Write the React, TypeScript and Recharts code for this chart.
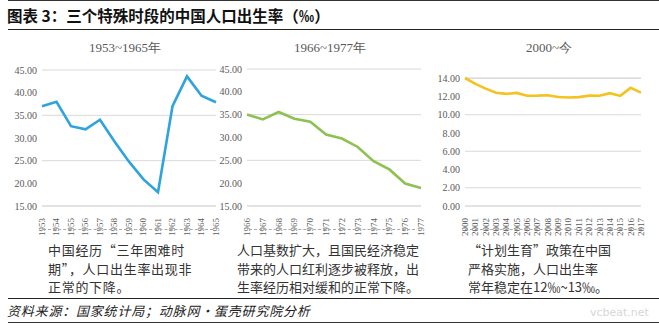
import React from "react";
import { LineChart, Line, XAxis, YAxis, CartesianGrid } from "recharts";

const years1 = ["1953", "1954", "1955", "1956", "1957", "1958", "1959", "1960", "1961", "1962", "1963", "1964", "1965"];
const rates1 = [37.0, 37.97, 32.6, 31.9, 34.03, 29.22, 24.78, 20.86, 18.02, 37.01, 43.6, 39.34, 37.88];

const years2 = ["1966", "1967", "1968", "1969", "1970", "1971", "1972", "1973", "1974", "1975", "1976", "1977"];
const rates2 = [35.05, 33.96, 35.59, 34.11, 33.43, 30.65, 29.77, 27.93, 24.82, 23.01, 19.91, 18.93];

const years3 = ["2000", "2001", "2002", "2003", "2004", "2005", "2006", "2007", "2008", "2009", "2010", "2011", "2012", "2013", "2014", "2015", "2016", "2017"];
const rates3 = [14.03, 13.38, 12.86, 12.41, 12.29, 12.4, 12.09, 12.1, 12.14, 11.95, 11.9, 11.93, 12.1, 12.08, 12.37, 12.07, 12.95, 12.43];

const ticksOld = [15, 20, 25, 30, 35, 40, 45];
const ticksNew = [0, 2, 4, 6, 8, 10, 12, 14];

const notes = [
  ["中国经历“三年困难时", "期”，人口出生率出现非", "正常的下降。"],
  ["人口基数扩大，且国民经济稳定", "带来的人口红利逐步被释放，出", "生率经历相对缓和的正常下降。"],
  ["“计划生育”政策在中国", "严格实施，人口出生率", "常年稳定在12‰~13‰。"],
];

const serif = "'Liberation Serif', 'Times New Roman', serif";
const cjk = "'Noto Sans CJK SC', sans-serif";

const YearTick = (props: any) => {
  const { x, y, payload } = props;
  return (
    <text
      x={x}
      y={y + 4}
      transform={`rotate(-90, ${x}, ${y + 4})`}
      textAnchor="end"
      dy="0.33em"
      fontSize={9}
      fontFamily={serif}
      fill="#595959"
    >
      {payload.value}
    </text>
  );
};

interface PanelProps {
  years: string[];
  rates: number[];
  color: string;
  left: number;
  width: number;
  top: number;
  domain: [number, number];
  ticks: number[];
  title: string;
}

function Panel({ years, rates, color, left, width, top, domain, ticks, title }: PanelProps) {
  const data = years.map((y, i) => ({ year: y, rate: rates[i] }));
  return (
    <div style={{ position: "absolute", left, top: 38, width }}>
      <div
        style={{
          textAlign: "center",
          fontFamily: serif,
          fontSize: 13,
          color: "#595959",
          height: 20,
          lineHeight: "20px",
          paddingLeft: 30,
        }}
      >
        {title}
      </div>
      <LineChart width={width} height={190} data={data} margin={{ top: top, right: 4, bottom: 12, left: 2 }}>
        <CartesianGrid vertical={false} stroke="#d9d9d9" />
        <XAxis
          dataKey="year"
          interval={0}
          tick={<YearTick />}
          tickLine={false}
          axisLine={{ stroke: "#d9d9d9" }}
          height={30}
        />
        <YAxis
          domain={domain}
          ticks={ticks}
          width={40}
          tickLine={false}
          axisLine={false}
          tickSize={5}
          tickMargin={0}
          tickFormatter={(v: number) => v.toFixed(2)}
          tick={{ fontSize: 10, fontFamily: serif, fill: "#595959" }}
        />
        <Line
          type="linear"
          dataKey="rate"
          stroke={color}
          strokeWidth={2.6}
          dot={false}
          isAnimationActive={false}
        />
      </LineChart>
    </div>
  );
}

export default function App() {
  return (
    <div
      style={{
        position: "absolute",
        left: 0,
        top: 0,
        width: 659,
        height: 328,
        background: "#fff",
        overflow: "hidden",
        fontFamily: cjk,
      }}
    >
      <div style={{ position: "absolute", left: 8, right: 0, top: 0, borderTop: "1px solid #333" }} />
      <div
        style={{
          position: "absolute",
          left: 7,
          top: 5,
          fontSize: 15.5,
          fontWeight: 700,
          color: "#111",
          lineHeight: "20px",
          whiteSpace: "nowrap",
        }}
      >
        图表 3：三个特殊时段的中国人口出生率（‰）
      </div>
      <div style={{ position: "absolute", left: 8, right: 0, top: 29, borderTop: "1.5px solid #222" }} />

      <Panel years={years1} rates={rates1} color="#2ea3dc" left={0} width={220} top={12} domain={[15, 45]} ticks={ticksOld} title="1953~1965年" />
      <Panel years={years2} rates={rates2} color="#8dc152" left={205} width={220} top={11} domain={[15, 45]} ticks={ticksOld} title="1966~1977年" />
      <Panel years={years3} rates={rates3} color="#f3c31e" left={423} width={222} top={20} domain={[0, 14]} ticks={ticksNew} title="2000~今" />

      {[
        { left: 43, width: 170 },
        { left: 249, width: 166 },
        { left: 465, width: 177 },
      ].map((d, i) => (
        <div key={i} style={{ position: "absolute", left: d.left, width: d.width, top: 229, borderTop: "1px dashed #aaa" }} />
      ))}

      {notes.map((lines, i) => (
        <div
          key={i}
          style={{
            position: "absolute",
            left: [48, 237, 468][i],
            top: 241,
            fontSize: 13,
            lineHeight: "18.5px",
            color: "#333",
            letterSpacing: i === 0 ? 0.7 : 0,
            whiteSpace: "nowrap",
          }}
        >
          {lines.map((l, j) => (
            <div key={j}>{l}</div>
          ))}
        </div>
      ))}

      <div style={{ position: "absolute", left: 8, right: 0, top: 298, borderTop: "1.5px solid #222" }} />
      <div
        style={{
          position: "absolute",
          left: 7,
          top: 302,
          fontSize: 13,
          fontStyle: "italic",
          letterSpacing: 0.8,
          color: "#222",
          lineHeight: "18px",
          whiteSpace: "nowrap",
        }}
      >
        资料来源：国家统计局；动脉网·蛋壳研究院分析
      </div>
      <div style={{ position: "absolute", left: 8, right: 0, top: 322, borderTop: "1px solid #333" }} />
      <div
        style={{
          position: "absolute",
          left: 590,
          top: 306,
          fontSize: 11,
          fontFamily: "'DejaVu Sans', sans-serif",
          color: "#d6d6d6",
        }}
      >
        vcbeat.net
      </div>
    </div>
  );
}
